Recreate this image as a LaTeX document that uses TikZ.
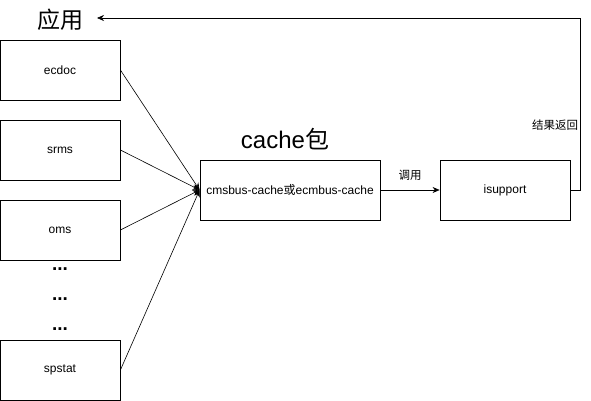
\documentclass[tikz,border=0pt]{standalone}
\usepackage{fontspec}
\setmainfont{Liberation Sans}
\newfontfamily\cjk{Noto Sans CJK SC}
\usetikzlibrary{arrows.meta}
\begin{document}
\begin{tikzpicture}[x=1pt,y=-1pt,
  box/.style={draw,line width=0.8pt,minimum width=120pt,minimum height=60pt,inner sep=0pt,font=\fontsize{12}{14}\selectfont},
  wide/.style={box,minimum width=180pt},
  conn/.style={line width=0.6pt,-{Stealth[length=7pt,width=6pt]}},
  lbl/.style={font=\fontsize{11.5}{13}\selectfont\cjk},
  dots/.style={font=\fontsize{19}{20}\selectfont\bfseries},
  big/.style={font=\fontsize{24}{28}\selectfont},
  bigcjk/.style={font=\fontsize{23}{28}\selectfont\cjk}]
\useasboundingbox (0,0) rectangle (591,401);
% application modules on the left
\node[box] (ecdoc) at (60,70) {ecdoc};
\node[box] (srms) at (60,150) {srms};
\node[box] (oms) at (60,230) {oms};
\node[box] (spstat) at (60,370) {spstat};
\node[dots] (d1) at (60,269) {...};
\node[dots] (d2) at (60,299) {...};
\node[dots] (d3) at (60,329) {...};
\node[bigcjk] (app) at (60,20) {应用};
% cache package and backend
\node[wide] (cache) at (290,190) {cmsbus-cache{\cjk 或}ecmbus-cache};
\node[big] (cachelbl) at (285,139) {cache{\cjk 包}};
\node[box,minimum width=130pt] (isup) at (505,190) {isupport};
% connectors
\foreach \n in {ecdoc,srms,oms,spstat}
  \draw[conn] (\n.east) -- (cache.west);
\draw[conn] (cache.east) -- node[lbl,above=6pt] (call) {调用} (isup.west);
\coordinate (r1) at (580,190);
\coordinate (r2) at (580,18);
\coordinate (r3) at (97,18);
\draw[conn] (isup.east) -- (r1) -- (r2) -- (r3);
\node[lbl] (ret) at (555,125) {结果返回};
\end{tikzpicture}
\end{document}
